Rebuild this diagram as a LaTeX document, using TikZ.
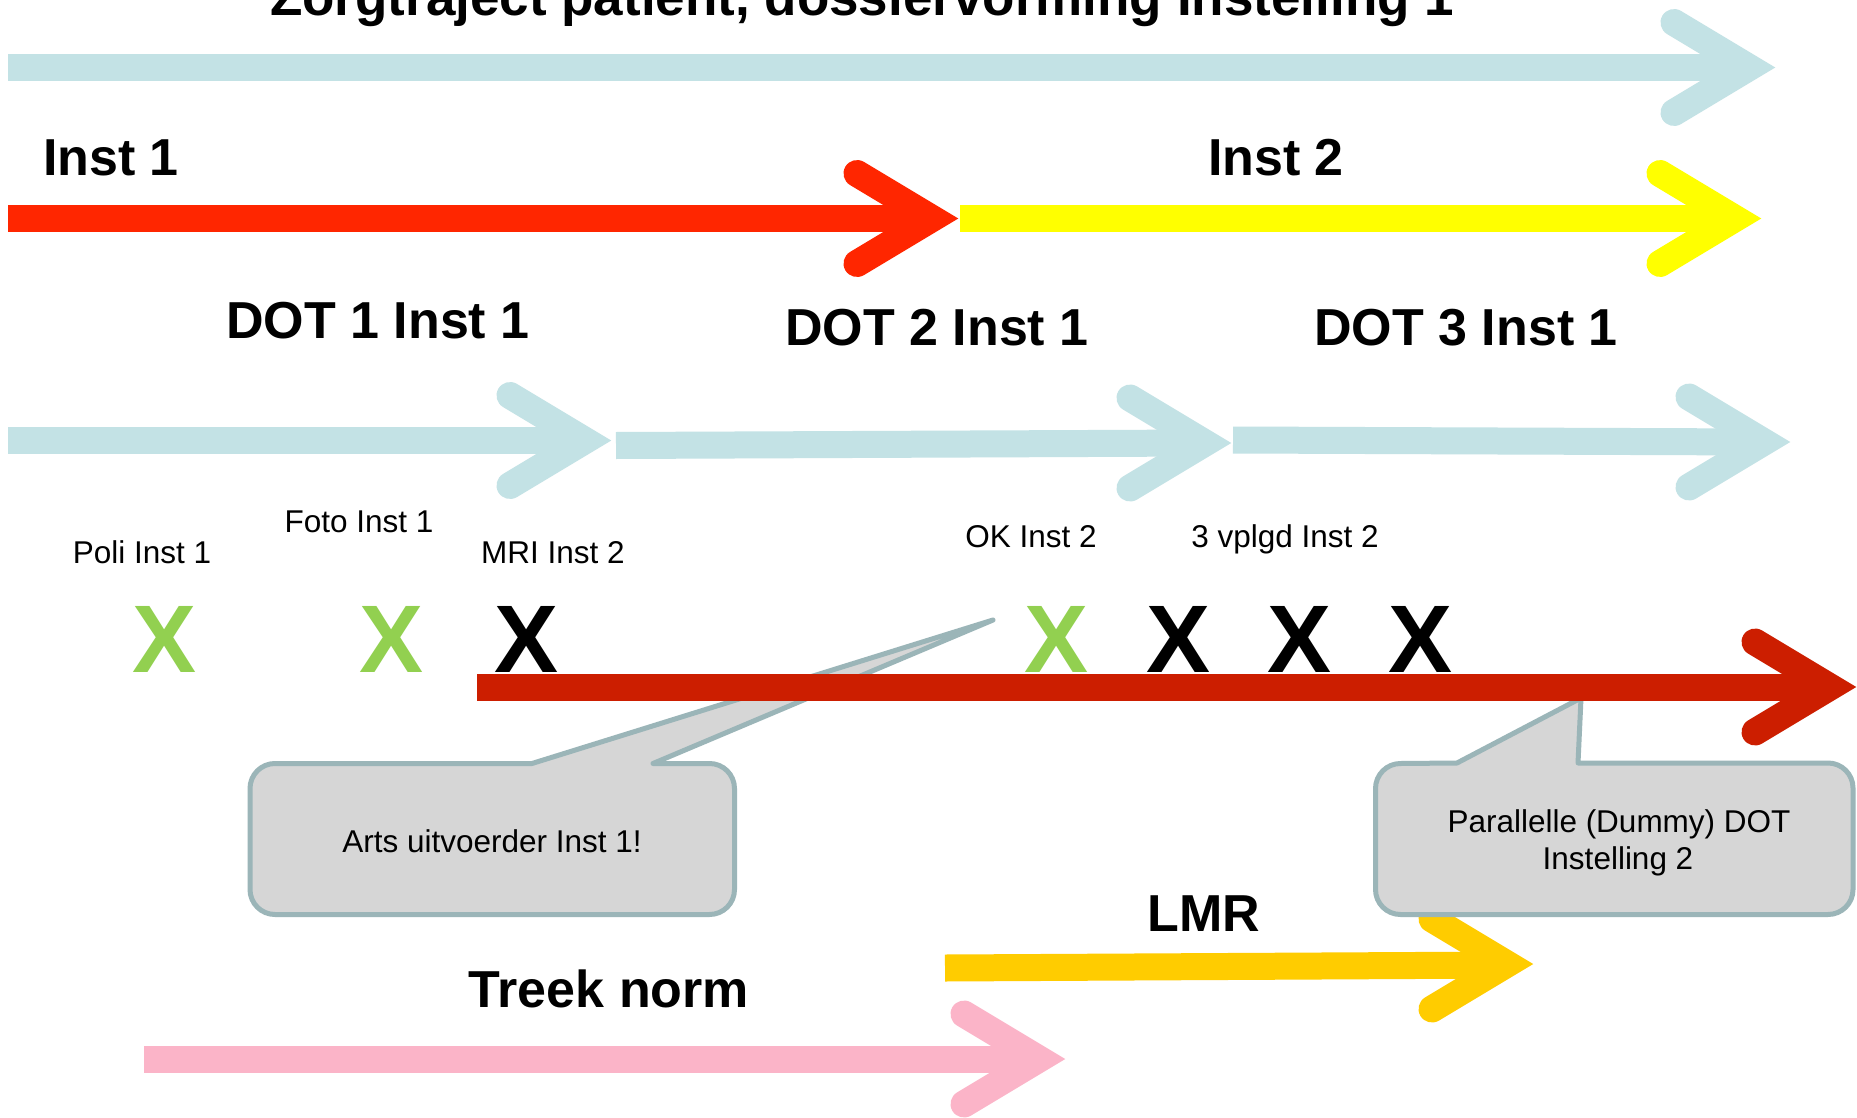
\documentclass[tikz,border=0pt]{standalone}
\usepackage{fontspec}
\setmainfont{Liberation Sans}
\definecolor{lblue}{HTML}{C3E2E5}
\definecolor{brred}{HTML}{FF2600}
\definecolor{yel}{HTML}{FFFF00}
\definecolor{dkred}{HTML}{CC1E00}
\definecolor{amber}{HTML}{FFCC00}
\definecolor{pinkc}{HTML}{FBB4C8}
\definecolor{xgreen}{HTML}{92D050}
\definecolor{callfill}{HTML}{D6D6D6}
\definecolor{callline}{HTML}{9BB5B8}
\newcommand\fatarrow[7]{% name, color, x0, y0, xt, yt(shaft end), yt(head)
  \coordinate (#1s) at (#3,#4);
  \coordinate (#1e) at (#5-27,#6);
  \coordinate (#1v) at (#5-27,#7);
  \coordinate (#1a) at (#5-102,#7-45);
  \coordinate (#1b) at (#5-102,#7+45);
  \draw[shaft,#2] (#1s) -- (#1e);
  \draw[head,#2] (#1a) -- (#1v) -- (#1b);
}
\begin{document}
\begin{tikzpicture}[x=1pt,y=-1pt,
  shaft/.style={line width=27pt},
  head/.style={line width=27pt,line cap=round,line join=miter,miter limit=10},
  big/.style={font=\fontsize{52}{62}\selectfont\bfseries,anchor=base,inner sep=0pt},
  small/.style={font=\fontsize{31.5}{38}\selectfont,anchor=base,inner sep=0pt},
  xmark/.style={font=\fontsize{96}{110}\selectfont\bfseries,anchor=base,inner sep=0pt},
  callout/.style={fill=callfill,draw=callline,line width=5pt,line join=round}]
\useasboundingbox (0,0) rectangle (1857,1118);
\clip (0,0) rectangle (1857,1118);
\fill[white] (0,0) rectangle (1857,1118);

% top rows
\fatarrow{top}{lblue}{8}{67.5}{1776}{67.5}{67.5}
\node[big,font=\fontsize{53}{63}\selectfont\bfseries] (title) at (862,16) {Zorgtraject patient, dossiervorming Instelling 1};
\fatarrow{inA}{brred}{8}{218.5}{959}{218.5}{218.5}
\fatarrow{inB}{yel}{960}{218.5}{1762}{218.5}{218.5}
\node[big] (inst1) at (111,176) {Inst 1};
\node[big] (inst2) at (1276,176) {Inst 2};

% DOT row
\node[big] (dot1) at (378,338) {DOT 1 Inst 1};
\node[big] (dot2) at (937,345) {DOT 2 Inst 1};
\node[big] (dot3) at (1466,345) {DOT 3 Inst 1};
\fatarrow{dA}{lblue}{8}{440.5}{612}{440.5}{440.5}
\fatarrow{dB}{lblue}{616}{445.5}{1232}{443}{443}
\fatarrow{dC}{lblue}{1233}{440}{1791}{442}{442}

% small labels
\node[small] (poli) at (142,563) {Poli Inst 1};
\node[small] (foto) at (359,532) {Foto Inst 1};
\node[small] (mri) at (553,563) {MRI Inst 2};
\node[small] (ok) at (1031,547) {OK Inst 2};
\node[small] (vplgd) at (1285,547) {3 vplgd Inst 2};

% X marks
\node[xmark,text=xgreen] (x1) at (165,672) {X};
\node[xmark,text=xgreen] (x2) at (392,672) {X};
\node[xmark] (x3) at (527,672) {X};
\node[xmark,text=xgreen] (x4) at (1057,672) {X};
\node[xmark] (x5) at (1178,672) {X};
\node[xmark] (x6) at (1299,672) {X};
\node[xmark] (x7) at (1420,672) {X};

% lower arrows
\fatarrow{lmr}{amber}{945}{968}{1534}{965}{964}
\fatarrow{tn}{pinkc}{144}{1059}{1066}{1059}{1059}
\node[big] (lmrt) at (1204,931) {LMR};
\node[big] (treek) at (609,1007) {Treek norm};

% callouts
\filldraw[callout] (532,763.5) -- (993,620) -- (653,763.5) -- (709.5,763.5)
  arc[start angle=-90,end angle=0,radius=25] -- (734.5,889.5)
  arc[start angle=0,end angle=90,radius=25] -- (275,914.5)
  arc[start angle=90,end angle=180,radius=25] -- (250,788.5)
  arc[start angle=180,end angle=270,radius=25] -- cycle;
\node[small] (arts) at (492,852) {Arts uitvoerder Inst 1!};

\filldraw[callout] (1457,763) -- (1581,698) -- (1578,763) -- (1828,763)
  arc[start angle=-90,end angle=0,radius=25] -- (1853,889.5)
  arc[start angle=0,end angle=90,radius=25] -- (1400.5,914.5)
  arc[start angle=90,end angle=180,radius=25] -- (1375.5,788.5)
  arc[start angle=180,end angle=270,radius=25] -- cycle;
\node[small] (par1) at (1619,832) {Parallelle (Dummy) DOT};
\node[small] (par2) at (1618,869) {Instelling 2};

% long dark red arrow on top
\fatarrow{dr}{dkred}{477}{687}{1857}{687}{687}
\end{tikzpicture}
\end{document}
